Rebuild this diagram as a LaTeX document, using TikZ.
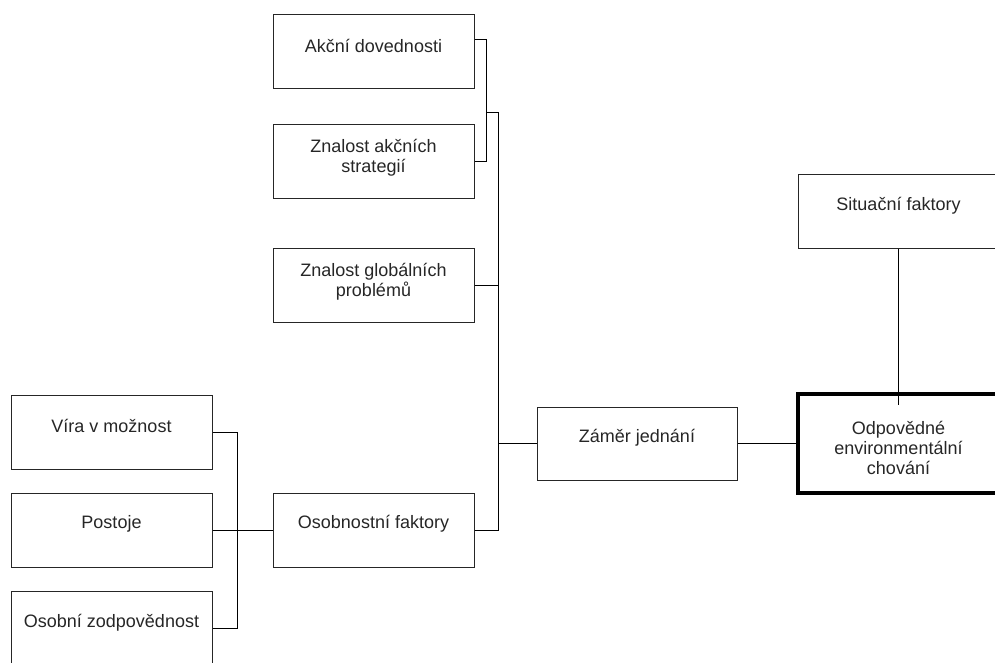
\documentclass[tikz,border=0pt]{standalone}
\usepackage{fontspec}
\setmainfont{Liberation Sans}
\begin{document}
\begin{tikzpicture}[x=1pt,y=-1pt,
  box/.style={draw=black!85, line width=1pt, minimum width=201pt, minimum height=74pt, inner sep=0pt},
  txt/.style={font=\fontsize{18}{20}\selectfont, text=black!85, align=center, inner sep=0pt},
  conn/.style={draw=black, line width=1pt}]
\clip (0,0) rectangle (995,662);
% boxes
\node[box] (AD)   at (373.5,51)  {};
\node[box] (ZAS)  at (373.5,161) {};
\node[box] (ZGP)  at (373.5,285) {};
\node[box] (Vira) at (111.5,432) {};
\node[box] (Post) at (111.5,530) {};
\node[box] (OZ)   at (111.5,628) {};
\node[box] (OF)   at (373.5,530) {};
\node[box, minimum width=200pt, minimum height=73pt] (ZJ) at (637,443.5) {};
\node[box] (SF)   at (898.5,211) {};
% texts
\node[txt] (ADt)   at (373.5,46)  {Akční dovednosti};
\node[txt] (ZASt)  at (373.5,158) {Znalost akčních\\strategií};
\node[txt] (ZGPt)  at (373.5,282) {Znalost globálních\\problémů};
\node[txt] (Virat) at (111.5,426) {Víra v možnost};
\node[txt] (Postt) at (111.5,524) {Postoje};
\node[txt] (OZt)   at (111.5,623) {Osobní zodpovědnost};
\node[txt] (OFt)   at (373.5,524) {Osobnostní faktory};
\node[txt] (ZJt)   at (637,438)   {Záměr jednání};
\node[txt] (SFt)   at (898.5,206) {Situační faktory};
% connectors
\coordinate (b1) at (486,112);
\coordinate (b2) at (498,112);
\draw[conn] ([yshift=12pt]AD.east) -- ++(12,0) |- (ZAS.east);
\draw[conn] (b1) -- (b2) -- (b2 |- OF.east) -- (OF.east);
\draw[conn] (ZGP.east) -- (ZGP.east -| b2);
\draw[conn] (b2 |- ZJ.west) -- (ZJ.west);
\draw[conn] (Vira.east) -- ++(25,0) |- (OZ.east);
\draw[conn] (Post.east) -- (OF.west);
% main box
\node[draw=black, line width=3.5pt, minimum width=201pt, minimum height=99pt, inner sep=0pt] (OEC) at (898.5,443.5) {};
\node[txt] (OECt) at (898.5,448) {Odpovědné\\environmentální\\chování};
\draw[conn] (ZJ.east) -- (OEC.west);
\draw[conn] (SF.south) -- ([yshift=-13pt]OEC.north);
\end{tikzpicture}
\end{document}
